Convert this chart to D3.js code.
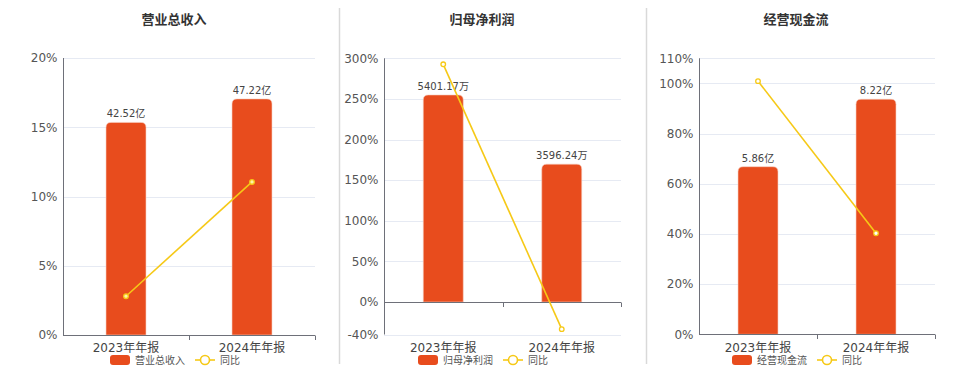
<!DOCTYPE html>
<html><head><meta charset="utf-8">
<script src="https://cdn.jsdelivr.net/npm/d3@7"></script>
<style>body{margin:0;background:#fff}svg{display:block}</style>
</head><body>
<svg id="c" width="960" height="372"></svg>
<script>
const categories = ["2023年年报", "2024年年报"];
const titles = ["营业总收入", "归母净利润", "经营现金流"];
const revenueValues = [42.52, 47.22];
const revenueLabels = ["42.52亿", "47.22亿"];
const revenueYoY = [2.8, 11.05];
const profitValues = [5401.17, 3596.24];
const profitLabels = ["5401.17万", "3596.24万"];
const profitYoY = [292.6, -33.42];
const cashValues = [5.86, 8.22];
const cashLabels = ["5.86亿", "8.22亿"];
const cashYoY = [100.9, 40.27];
const revenueTicks = [0, 5, 10, 15, 20];
const profitTicks = [-40, 0, 50, 100, 150, 200, 250, 300];
const cashTicks = [0, 20, 40, 60, 80, 100, 110];

const BAR = "#e84c1d", LINE = "#f6c917", GRID = "#e6eaf3", AXIS = "#6e7079", TXT = "#555";
const FONT = "'DejaVu Sans','Noto Sans CJK SC',sans-serif";
const svg = d3.select("#c");

// separators
[339.5, 646.5].forEach(x => svg.append("line").attr("x1", x).attr("x2", x).attr("y1", 8).attr("y2", 364)
  .attr("stroke", "#d9d9d9").attr("stroke-width", 1.5));

const panels = [
  {title: titles[0], vals: revenueValues, labels: revenueLabels, yoy: revenueYoY, ticks: revenueTicks,
   yDom: [0, 20], barMax: 55.4, left: 63, right: 315, top: 58, bottom: 335, cx: 174, filled: true},
  {title: titles[1], vals: profitValues, labels: profitLabels, yoy: profitYoY, ticks: profitTicks,
   yDom: [-40, 300], barMax: 6357, left: 384, right: 621, top: 58.3, bottom: 334.5, cx: 482, filled: false},
  {title: titles[2], vals: cashValues, labels: cashLabels, yoy: cashYoY, ticks: cashTicks,
   yDom: [0, 110], barMax: 9.65, left: 699, right: 935, top: 58.3, bottom: 334.3, cx: 796, filled: false}
];

function topRoundRect(x, y, w, h, r) {
  r = Math.min(r, h, w / 2);
  return `M${x},${y + h}V${y + r}Q${x},${y} ${x + r},${y}H${x + w - r}Q${x + w},${y} ${x + w},${y + r}V${y + h}Z`;
}

panels.forEach(p => {
  const g = svg.append("g");
  const x = d3.scaleBand().domain(categories).range([p.left, p.right]).paddingInner(0).paddingOuter(0);
  const y = d3.scaleLinear().domain(p.yDom).range([p.bottom, p.top]);
  const y0 = y(0);
  const yb = d3.scaleLinear().domain([0, p.barMax]).range([y0, p.top]);

  g.append("text").attr("x", p.cx).attr("y", 24).attr("text-anchor", "middle")
    .attr("font-family", FONT).attr("font-size", 13).attr("font-weight", "bold").attr("fill", "#333")
    .text(p.title);

  // grid
  g.selectAll(".grid").data(p.ticks).join("line")
    .attr("x1", p.left).attr("x2", p.right)
    .attr("y1", d => Math.round(y(d)) + 0.5).attr("y2", d => Math.round(y(d)) + 0.5)
    .attr("stroke", GRID).attr("stroke-width", 1);

  // y axis
  const ya = g.append("g").attr("transform", `translate(${p.left + 0.5},0)`)
    .call(d3.axisLeft(y).tickValues(p.ticks).tickSize(0).tickPadding(6).tickFormat(d => d + "%"));
  ya.select(".domain").attr("stroke", AXIS).attr("d", `M0,${p.top}V${p.bottom}`);
  ya.selectAll("text").attr("font-family", FONT).attr("font-size", 12).attr("fill", TXT);

  // bars
  const bw = 40;
  g.selectAll(".bar").data(p.vals).join("path")
    .attr("d", (d, i) => topRoundRect(x(categories[i]) + x.bandwidth() / 2 - bw / 2, yb(d), bw, y0 - yb(d), 5))
    .attr("fill", BAR).attr("stroke", "#f7d2c4").attr("stroke-width", 0.6);

  g.selectAll(".vl").data(p.vals).join("text")
    .attr("x", (d, i) => x(categories[i]) + x.bandwidth() / 2).attr("y", d => yb(d) - 5)
    .attr("text-anchor", "middle").attr("font-family", FONT).attr("font-size", 10).attr("fill", "#444")
    .text((d, i) => p.labels[i]);

  // x axis at zero
  const xa = g.append("g").attr("transform", `translate(0,${Math.round(y0) + 0.5})`)
    .call(d3.axisBottom(x).tickSize(0).tickFormat(""));
  xa.select(".domain").attr("stroke", AXIS).attr("stroke-width", 1.2).attr("d", `M${p.left},0H${p.right}`);
  const edges = [p.left + x.bandwidth(), p.right];
  g.selectAll(".xt").data(edges).join("line")
    .attr("x1", d => Math.round(d) + 0.5).attr("x2", d => Math.round(d) + 0.5)
    .attr("y1", Math.round(y0) + 0.5).attr("y2", Math.round(y0) + 5)
    .attr("stroke", AXIS);
  g.selectAll(".xl").data(categories).join("text")
    .attr("x", d => x(d) + x.bandwidth() / 2).attr("y", 352)
    .attr("text-anchor", "middle").attr("font-family", FONT).attr("font-size", 12).attr("fill", "#444")
    .text(d => d);

  // line
  const line = d3.line().x((d, i) => x(categories[i]) + x.bandwidth() / 2).y(d => y(d));
  g.append("path").datum(p.yoy).attr("d", line).attr("fill", "none").attr("stroke", LINE).attr("stroke-width", 1.6);
  g.selectAll(".pt").data(p.yoy).join("circle")
    .attr("cx", (d, i) => x(categories[i]) + x.bandwidth() / 2).attr("cy", d => y(d)).attr("r", 2.3)
    .attr("fill", p.filled ? "#fff3a8" : "#fff").attr("stroke", LINE).attr("stroke-width", 1.3);

  // legend
  const lg = g.append("g");
  const t1 = lg.append("text").attr("font-family", FONT).attr("font-size", 10).attr("fill", "#555")
    .attr("x", 25).attr("y", 364).text(p.title);
  const w1 = t1.node().getComputedTextLength();
  lg.append("rect").attr("x", 0).attr("y", 355).attr("width", 20).attr("height", 10).attr("rx", 3).attr("fill", BAR);
  const lx = 25 + w1 + 10;
  lg.append("line").attr("x1", lx).attr("x2", lx + 20).attr("y1", 360).attr("y2", 360).attr("stroke", LINE).attr("stroke-width", 1.6);
  lg.append("circle").attr("cx", lx + 10).attr("cy", 360).attr("r", 4.5).attr("fill", "#fff").attr("stroke", LINE).attr("stroke-width", 1.6);
  const t2 = lg.append("text").attr("font-family", FONT).attr("font-size", 10).attr("fill", "#555")
    .attr("x", lx + 25).attr("y", 364).text("同比");
  const total = lx + 25 + t2.node().getComputedTextLength();
  lg.attr("transform", `translate(${p.cx - total / 2 + 1},0)`);
});
</script>
</body></html>
